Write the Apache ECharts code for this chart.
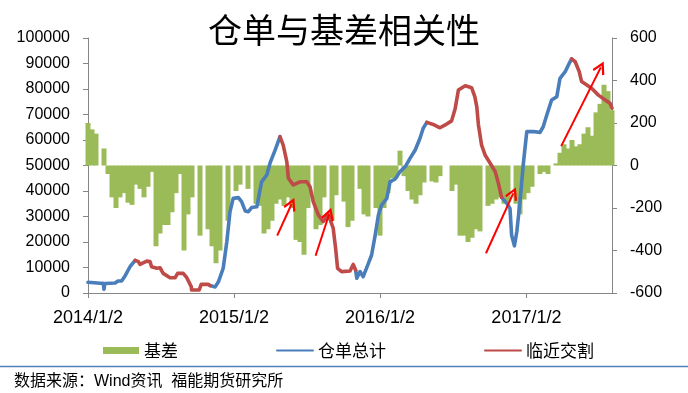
<!DOCTYPE html>
<html><head><meta charset="utf-8">
<script src="https://cdn.jsdelivr.net/npm/echarts@6/dist/echarts.min.js"></script>
<style>html,body{margin:0;padding:0;background:#fff}#c{width:688px;height:393px}</style>
</head><body><div id="c"></div>
<script>
// ---- data ----
const xTickDates = ['2014-01-02','2015-01-02','2016-01-02','2017-01-02'];
const xTickLabels = ['2014/1/2','2015/1/2','2016/1/2','2017/1/2'];
const xStart = '2014-01-02';
const xEnd = '2017-08-04';

const basisDates = ['2014-01-02','2014-01-12','2014-01-22','2014-02-01','2014-02-11','2014-02-21','2014-03-03','2014-03-13','2014-03-23','2014-04-02','2014-04-12','2014-04-22','2014-05-02','2014-05-12','2014-05-22','2014-06-01','2014-06-11','2014-06-21','2014-07-01','2014-07-11','2014-07-21','2014-07-31','2014-08-10','2014-08-20','2014-08-30','2014-09-09','2014-09-19','2014-09-29','2014-10-09','2014-10-19','2014-10-29','2014-11-08','2014-11-18','2014-11-28','2014-12-08','2014-12-18','2014-12-28','2015-01-07','2015-01-17','2015-01-27','2015-02-06','2015-02-16','2015-02-26','2015-03-08','2015-03-18','2015-03-28','2015-04-07','2015-04-17','2015-04-27','2015-05-07','2015-05-17','2015-05-27','2015-06-06','2015-06-16','2015-06-26','2015-07-06','2015-07-16','2015-07-26','2015-08-05','2015-08-15','2015-08-25','2015-09-04','2015-09-14','2015-09-24','2015-10-04','2015-10-14','2015-10-24','2015-11-03','2015-11-13','2015-11-23','2015-12-03','2015-12-13','2015-12-23','2016-01-02','2016-01-12','2016-01-22','2016-02-01','2016-02-11','2016-02-21','2016-03-02','2016-03-12','2016-03-22','2016-04-01','2016-04-11','2016-04-21','2016-05-01','2016-05-11','2016-05-21','2016-05-31','2016-06-10','2016-06-20','2016-06-30','2016-07-10','2016-07-20','2016-07-30','2016-08-09','2016-08-19','2016-08-29','2016-09-08','2016-09-18','2016-09-28','2016-10-08','2016-10-18','2016-10-28','2016-11-07','2016-11-17','2016-11-27','2016-12-07','2016-12-17','2016-12-27','2017-01-06','2017-01-16','2017-01-26','2017-02-05','2017-02-15','2017-02-25','2017-03-07','2017-03-17','2017-03-27','2017-04-06','2017-04-16','2017-04-26','2017-05-06','2017-05-16','2017-05-26','2017-06-05','2017-06-15','2017-06-25','2017-07-05','2017-07-15','2017-07-25','2017-08-04'];
const basisValues = [200,170,150,0,80,-40,-150,-200,-150,-130,-175,-185,-90,-110,-150,-100,-30,-380,-320,-280,-280,-220,-130,-40,-400,-230,-150,0,-330,0,-300,-380,-460,-400,0,-260,0,-120,-90,0,-110,0,-180,-190,-320,-300,-260,-180,-160,-190,-150,-200,-350,-360,-420,-200,0,-300,-280,-150,0,-260,-140,0,-170,-290,-260,0,-110,-230,-240,0,-200,-330,-200,-130,-60,-60,70,-50,-120,-160,-180,-140,-80,0,-75,-80,-50,0,0,-120,-90,-330,-330,-360,-340,-300,-310,0,-190,-180,-160,-150,-180,-170,0,-180,-230,-160,-130,-100,0,-40,-30,-40,0,10,60,100,80,120,90,100,150,180,140,250,290,380,350,260];

const stockDates1 = ['2014-01-02','2014-02-01','2014-02-09','2014-02-11','2014-02-13','2014-03-11','2014-03-18','2014-03-27','2014-04-05','2014-04-17','2014-04-30'];
const stockVals1  = [4200,3800,3800,1500,3700,3900,4700,4700,6800,10300,12800];
const deliveryDates1 = ['2014-04-30','2014-05-08','2014-05-12','2014-05-29','2014-06-06','2014-06-10','2014-06-23','2014-07-01','2014-07-09','2014-07-26','2014-08-08','2014-08-14','2014-08-28','2014-09-06','2014-09-17','2014-09-18','2014-10-07','2014-10-12','2014-10-30','2014-11-03'];
const deliveryVals1  = [12800,12300,11200,12500,12300,10300,9700,9900,7700,6000,6000,7700,7700,6000,2500,1200,1200,3400,3400,2900];
const stockDates2 = ['2014-11-03','2014-11-16','2014-11-24','2014-12-06','2014-12-15','2014-12-23','2014-12-31','2015-01-13','2015-01-21','2015-01-30','2015-02-07','2015-02-15','2015-02-28','2015-03-12','2015-03-25','2015-04-02','2015-04-15','2015-04-27'];
const stockVals2  = [2900,2400,4400,9700,20100,31900,37100,37400,35800,32200,31900,33500,33800,43600,46300,50900,56100,61300];
const deliveryDates2 = ['2015-04-27','2015-05-05','2015-05-14','2015-05-18','2015-05-30','2015-06-16','2015-07-03','2015-07-11','2015-07-19','2015-08-01','2015-08-13','2015-08-26','2015-09-07','2015-09-13','2015-09-18','2015-09-28','2015-10-19','2015-10-27','2015-11-02'];
const deliveryVals2  = [61300,58000,51500,45000,42400,43600,43600,41700,35800,30600,28000,30600,25400,17500,9700,8400,8600,11200,9000];
const stockDates3 = ['2015-11-02','2015-11-05','2015-11-13','2015-11-21','2015-12-04','2015-12-12','2015-12-21','2015-12-29','2016-01-06','2016-01-19','2016-01-27','2016-02-09','2016-02-21','2016-03-05','2016-03-17','2016-03-30','2016-04-11','2016-04-19','2016-04-28'];
const stockVals3  = [9000,5800,8400,6400,11600,14900,22700,30600,34500,37100,43600,44700,47600,49500,52800,56100,60700,64600,66900];
const deliveryDates3 = ['2016-04-28','2016-05-14','2016-05-31','2016-06-13','2016-06-29','2016-07-08','2016-07-16','2016-08-02','2016-08-18','2016-08-26','2016-08-31','2016-09-04','2016-09-12','2016-09-21','2016-10-03','2016-10-16','2016-10-24','2016-11-01'];
const deliveryVals3  = [66900,66100,64800,65900,67500,72400,79600,81300,80500,77000,73000,66000,58000,54000,51000,47600,43000,37500];
const stockDates4 = ['2016-11-01','2016-11-14','2016-11-22','2016-11-26','2016-12-03','2016-12-09','2016-12-17','2016-12-25','2017-01-03','2017-01-19','2017-02-05','2017-02-13','2017-02-22','2017-03-06','2017-03-19','2017-03-27','2017-04-09','2017-04-17','2017-04-25'];
const stockVals4  = [37500,35200,33200,22700,18500,24000,35800,50200,63300,63300,63000,65200,69800,75700,77000,84200,86800,89400,91800];
const deliveryDates4 = ['2017-04-25','2017-05-04','2017-05-14','2017-05-20','2017-06-02','2017-06-14','2017-07-01','2017-07-18','2017-07-30','2017-08-04'];
const deliveryVals4  = [91800,90700,86800,82900,81600,80300,77600,75700,74400,72500];

// annotation arrows (start -> end, in left-axis units)
const arrowStartDates = ['2015-04-20','2015-07-25','2016-09-23','2017-03-30'];
const arrowStartVals  = [22500,14600,15600,57600];
const arrowEndDates   = ['2015-05-26','2015-08-28','2016-11-30','2017-07-07'];
const arrowEndVals    = [34900,31000,39100,88500];

// ---- chart ----
const FONT = '"Liberation Sans", "Noto Sans CJK SC", sans-serif';
const GREEN = '#9BBB59', BLUE = '#4A7EBB', RED = '#BE4B48', AXIS = '#868686';
const day0 = Date.parse(xStart);
const dayOf = s => (Date.parse(s) - day0) / 86400000;
const pairs = (ds, vs) => ds.map((d, i) => [dayOf(d), vs[i]]);
const tickDays = xTickDates.map(dayOf);

const chevron = 'path://M5,0 L10,8 L8.6,9 L5,3.2 L1.4,9 L0,8 Z';

function lineSeries(name, color, ds, vs, extra) {
  return Object.assign({
    name, type: 'line', yAxisIndex: 0, data: pairs(ds, vs),
    symbol: 'none', showSymbol: false, z: name === '临近交割' ? 4 : 3,
    lineStyle: { color, width: 3.6, cap: 'round', join: 'round' },
    itemStyle: { color }, emphasis: { disabled: true }
  }, extra || {});
}

const series = [
  {
    name: '基差', type: 'bar', yAxisIndex: 1, data: pairs(basisDates, basisValues),
    barWidth: 5, itemStyle: { color: GREEN }, emphasis: { disabled: true }, z: 2
  },
  lineSeries('仓单总计', BLUE, stockDates1, stockVals1),
  lineSeries('仓单总计', BLUE, stockDates2, stockVals2),
  lineSeries('仓单总计', BLUE, stockDates3, stockVals3),
  lineSeries('仓单总计', BLUE, stockDates4, stockVals4),
  lineSeries('临近交割', RED, deliveryDates1, deliveryVals1),
  lineSeries('临近交割', RED, deliveryDates2, deliveryVals2),
  lineSeries('临近交割', RED, deliveryDates3, deliveryVals3),
  lineSeries('临近交割', RED, deliveryDates4, deliveryVals4, {
    markLine: {
      silent: true, animation: false,
      symbol: ['none', chevron], symbolSize: 13,
      label: { show: false },
      lineStyle: { color: '#FF0000', width: 2, type: 'solid' },
      emphasis: { disabled: true },
      data: arrowStartDates.map((d, i) => [
        { coord: [dayOf(d), arrowStartVals[i]] },
        { coord: [dayOf(arrowEndDates[i]), arrowEndVals[i]] }
      ])
    }
  })
];

const chart = echarts.init(document.getElementById('c'), null, { renderer: 'canvas' });
chart.setOption({
  animation: false,
  backgroundColor: '#fff',
  textStyle: { fontFamily: FONT },
  title: {
    text: '仓单与基差相关性', left: 'center', top: 8,
    textStyle: { fontFamily: '"Noto Sans CJK SC", sans-serif', fontSize: 34, fontWeight: 'normal', color: '#000' }
  },
  grid: { left: 88, right: 76, top: 38, bottom: 100, containLabel: false },
  legend: {
    left: 98, top: 337, itemGap: 98, itemWidth: 36, itemHeight: 7,
    textStyle: { fontSize: 17, color: '#000', fontFamily: '"Noto Sans CJK SC", sans-serif' },
    data: [
      { name: '基差', icon: 'rect' },
      { name: '仓单总计', itemStyle: { opacity: 0 } },
      { name: '临近交割', itemStyle: { opacity: 0 } }
    ]
  },
  xAxis: {
    type: 'value', min: 0, max: dayOf(xEnd),
    splitLine: { show: false },
    axisLine: { show: true, lineStyle: { color: AXIS, width: 1 } },
    axisTick: { show: true, length: 5, customValues: tickDays, lineStyle: { color: AXIS } },
    axisLabel: {
      customValues: tickDays, margin: 16, fontSize: 18, color: '#000', fontFamily: FONT,
      formatter: v => { const i = tickDays.indexOf(v); return i >= 0 ? xTickLabels[i] : ''; }
    }
  },
  yAxis: [
    {
      type: 'value', min: 0, max: 100000, interval: 10000, position: 'left',
      splitLine: { show: false },
      axisLine: { show: true, lineStyle: { color: AXIS } },
      axisTick: { show: true, length: 5, lineStyle: { color: AXIS } },
      axisLabel: { fontSize: 16, margin: 18, color: '#000', fontFamily: FONT, formatter: v => String(v) }
    },
    {
      type: 'value', min: -600, max: 600, interval: 200, position: 'right',
      splitLine: { show: false },
      axisLine: { show: true, lineStyle: { color: AXIS } },
      axisTick: { show: true, length: 5, lineStyle: { color: AXIS } },
      axisLabel: { fontSize: 16, margin: 18, color: '#000', fontFamily: FONT, formatter: v => String(v) }
    }
  ],
  graphic: [
    { type: 'line', shape: { x1: 0, y1: 366.5, x2: 688, y2: 366.5 }, style: { stroke: '#4F81BD', lineWidth: 1.5 }, silent: true },
    { type: 'text', left: 14, top: 374, style: { text: '数据来源：Wind资讯  福能期货研究所', font: '16px ' + FONT, fill: '#000' }, silent: true }
  ],
  series
});
</script>
</body></html>
